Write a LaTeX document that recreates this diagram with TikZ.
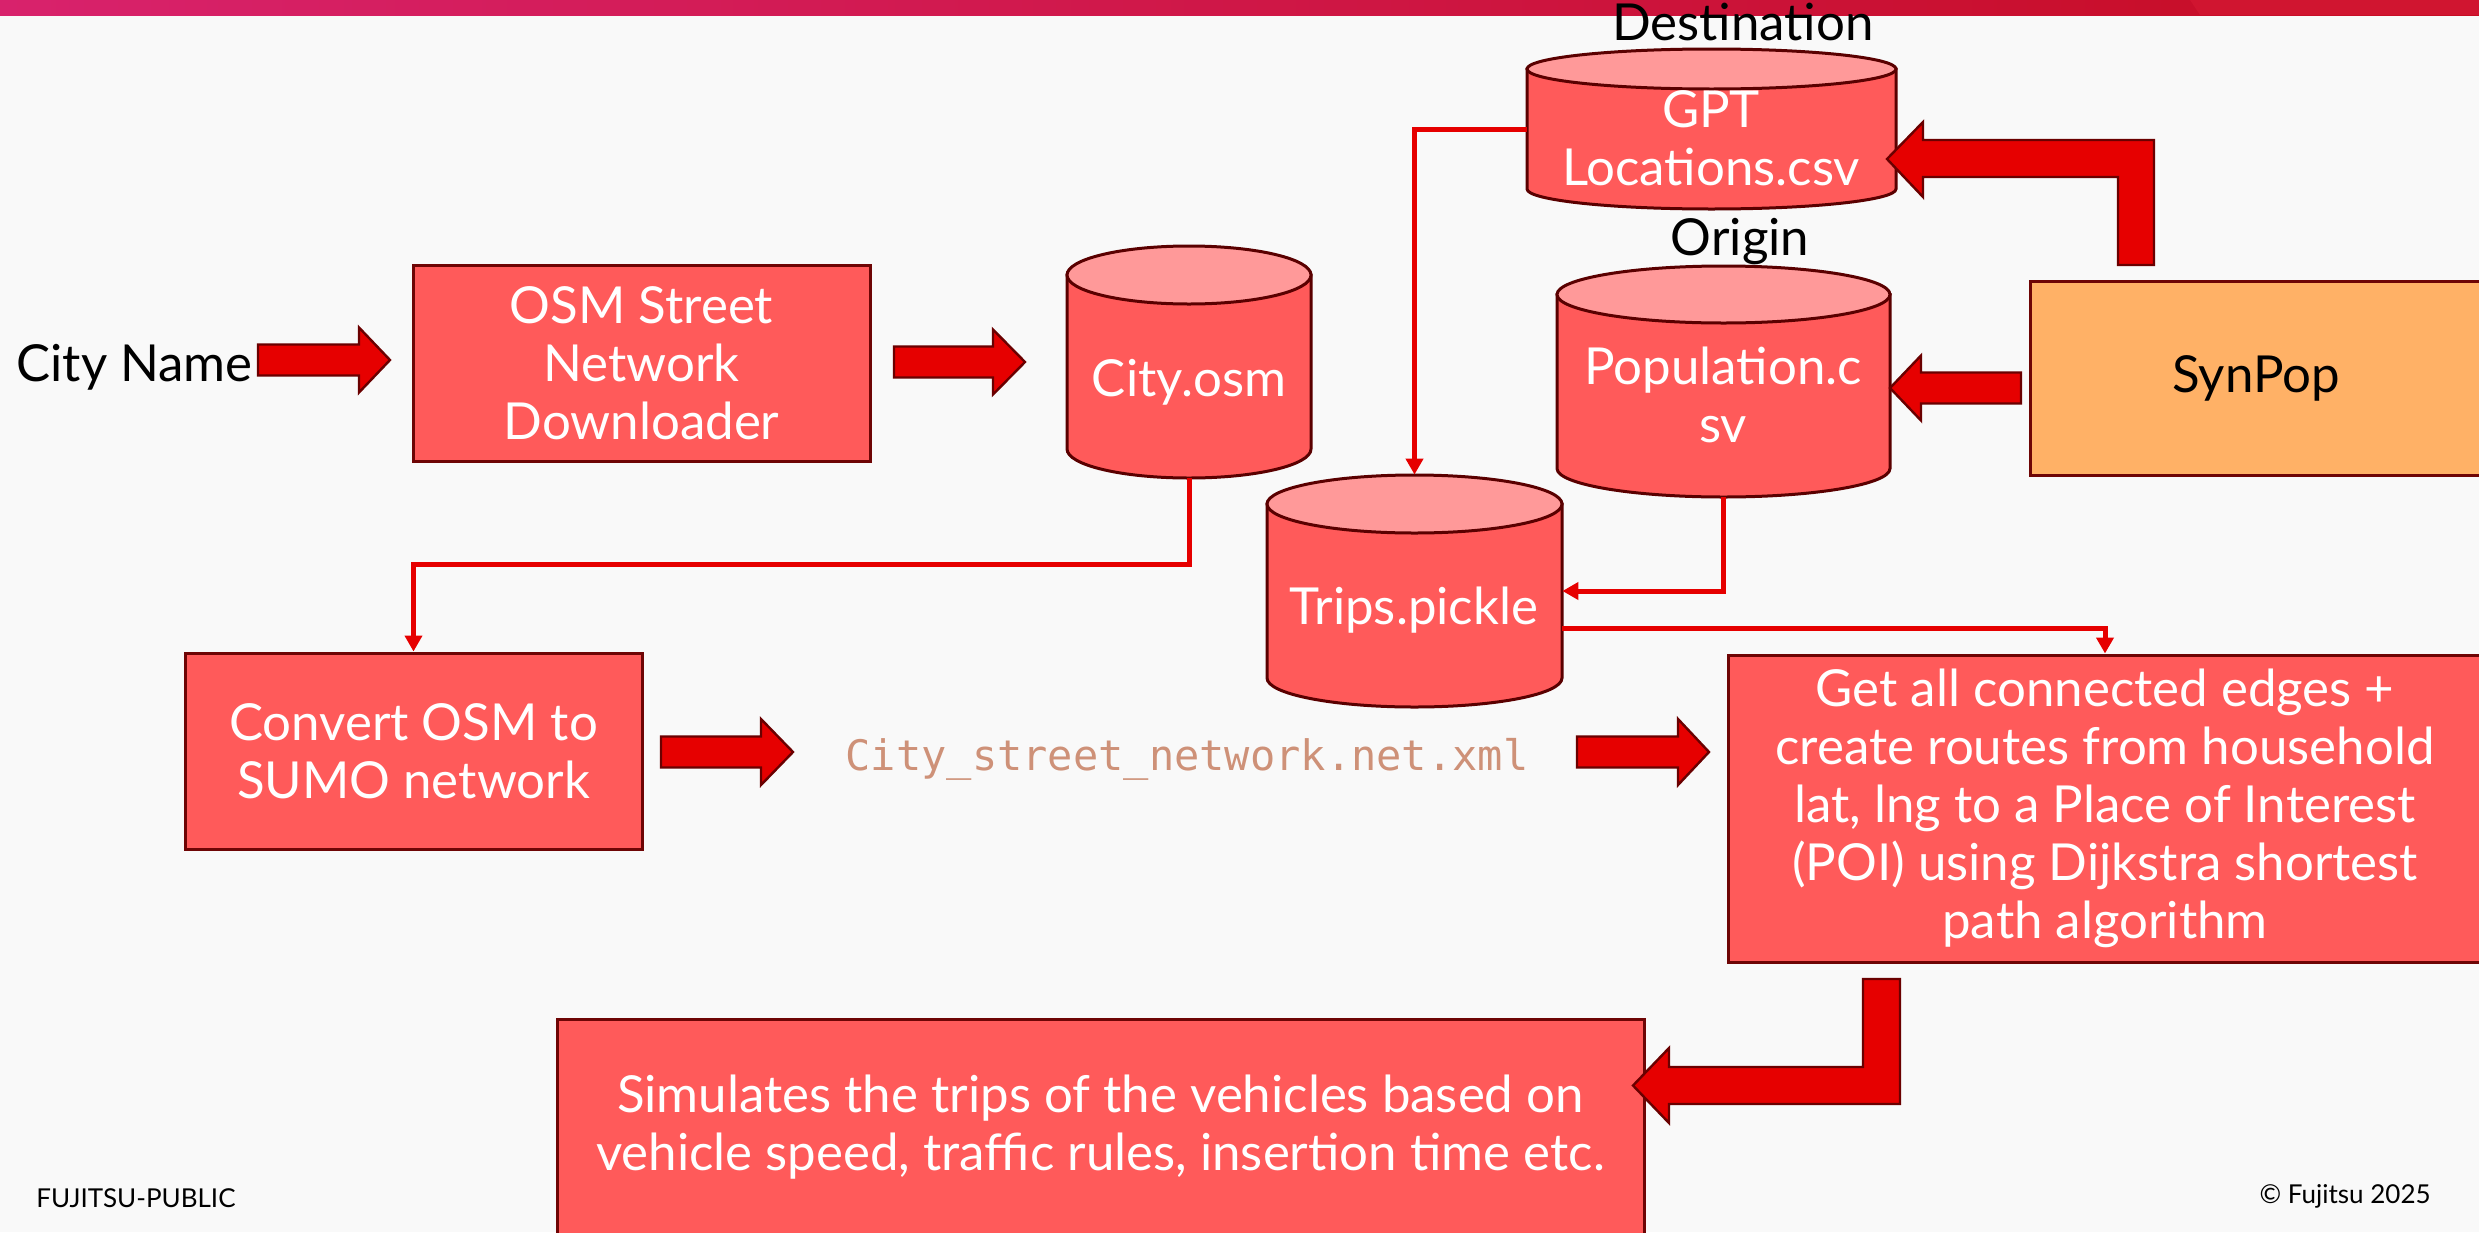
\documentclass[tikz,border=0pt]{standalone}
\usepackage{fontspec}
\setmainfont{Lato}
\newfontfamily\codefont{DejaVu Sans Mono}
\usetikzlibrary{arrows.meta}
\definecolor{bgc}{HTML}{F9F9F9}
\definecolor{boxfill}{HTML}{FF5A5A}
\definecolor{boxborder}{HTML}{6E0505}
\definecolor{cyltopc}{HTML}{FF9999}
\definecolor{cylborder}{HTML}{5A0000}
\definecolor{arrowred}{HTML}{E60000}
\definecolor{arrowborder}{HTML}{6A0000}
\definecolor{connred}{HTML}{E60000}
\definecolor{synpopc}{HTML}{FFB166}
\definecolor{codec}{HTML}{CE9178}
\definecolor{barleft}{HTML}{D8226C}
\definecolor{barright}{HTML}{C60C22}
\definecolor{barlight}{HTML}{D01530}
\newcommand\mainfs{\fontsize{25.5pt}{29pt}\selectfont}
\newcommand\drawcyl[5]{%
  \pgfmathsetmacro\cylcx{(#1+#2)/2}%
  \pgfmathsetmacro\cylrx{(#2-#1)/4}%
  \pgfmathsetmacro\cylry{#5/2}%
  \path[cylbody] ({#1},{#3+#5}) -- ({#1},{#4-#5}) arc[start angle=180,end angle=360,x radius=\cylrx pt,y radius=\cylry pt] -- ({#2},{#3+#5}) -- cycle;
  \path[cyltop] ({\cylcx},{#3+#5}) ellipse[x radius=\cylrx pt,y radius=\cylry pt];
}
\newcommand\blockarrow[6]{%
  \path[barrow] ({#1},{#4-#5}) -- ({#2},{#4-#5}) -- ({#2},{#4-#6}) -- ({#3},{#4}) -- ({#2},{#4+#6}) -- ({#2},{#4+#5}) -- ({#1},{#4+#5}) -- cycle;
}
\begin{document}
\begin{tikzpicture}[x=0.5pt,y=-0.5pt,
  box/.style={rectangle,draw=boxborder,line width=1.5pt,fill=boxfill,text=white,align=center,font=\mainfs,inner sep=0pt},
  cylarea/.style={rectangle,inner sep=0pt,draw=none},
  cyltxt/.style={text=white,align=center,font=\mainfs,inner sep=0pt},
  lbl/.style={text=black,font=\mainfs,inner sep=0pt},
  foot/.style={text=black,font=\fontsize{13pt}{15pt}\selectfont,inner sep=0pt},
  codetxt/.style={text=codec,font=\codefont\fontsize{21pt}{25pt}\selectfont,inner sep=0pt},
  conn/.style={draw=connred,line width=2.5pt,-{Triangle[width=8.5pt,length=8pt]}},
  barrow/.style={fill=arrowred,draw=arrowborder,line width=1.2pt,line join=miter},
  cylbody/.style={fill=boxfill,draw=cylborder,line width=1.5pt},
  cyltop/.style={fill=cyltopc,draw=cylborder,line width=1.5pt}]
\useasboundingbox (0,0) rectangle (2479,1232);
\clip (0,0) rectangle (2479,1232);
\fill[bgc] (0,0) rectangle (2479,1232);
% top bar
\shade[left color=barleft,right color=barright] (0,0) rectangle (2479,15);
\fill[barlight] (2190,0) -- (2479,0) -- (2479,15) -- (2200,15) -- cycle;

% boxes
\node[box,minimum width=228.5pt,minimum height=98pt] (osm) at (641.5,363) {OSM Street\\Network\\Downloader};
\node[box,minimum width=228.5pt,minimum height=98pt] (convert) at (413.5,751) {Convert OSM to\\SUMO network};
\node[box,minimum width=377pt,minimum height=153.5pt] (get) at (2105,808.5) {Get all connected edges +\\create routes from household\\lat, lng to a Place of Interest\\(POI) using Dijkstra shortest\\path algorithm};
\node[box,fill=synpopc,text=black,minimum width=226pt,minimum height=97pt] (synpop) at (2256,378) {SynPop};
\node[box,minimum width=543.5pt,minimum height=108.5pt] (sim) at (1100.5,1127.5) {Simulates the trips of the vehicles based on\\vehicle speed, traffic rules, insertion time etc.};

% cylinders
\drawcyl{1067}{1311}{246}{478}{29}
\drawcyl{1267}{1562}{475}{707}{29}
\drawcyl{1527}{1896}{49}{209}{20}
\drawcyl{1557}{1890}{266}{497}{28.5}
\node[cylarea,minimum width=122pt,minimum height=116pt] (city) at (1189,362) {};
\node[cylarea,minimum width=147.5pt,minimum height=116pt] (trips) at (1414.5,591) {};
\node[cylarea,minimum width=184.5pt,minimum height=80pt] (gpt) at (1711.5,129) {};
\node[cylarea,minimum width=166.5pt,minimum height=115.5pt] (pop) at (1723.5,381.5) {};
\node[cyltxt,anchor=base] (citytxt) at (1189,396) {City.osm};
\node[cyltxt,anchor=base] (tripstxt) at (1414,624) {Trips.pickle};
\node[cyltxt,anchor=base] (gpttxt) at (1711,185) {GPT\\Locations.csv};
\node[cyltxt,anchor=base] (poptxt) at (1723,442) {Population.c\\sv};

% labels
\node[lbl,anchor=base west] (cityname) at (16,381) {City Name};
\node[lbl,anchor=base] (dest) at (1743,40) {Destination};
\node[lbl,anchor=base] (origin) at (1740,255) {Origin};
\node[codetxt,anchor=base] (netxml) at (1187,770) {City\_street\_network.net.xml};
\node[foot,anchor=west] (pub) at (36,1198) {FUJITSU-PUBLIC};
\node[foot,anchor=east] (copy) at (2431,1196) {© Fujitsu 2025};

% thin connectors
\draw[conn] (city.south) -- ++(0,86) -| (convert.north);
\draw[conn] (gpt.west) -| (trips.north);
\draw[conn] (pop.south) |- (trips.east);
\draw[conn] ([yshift=-18.5pt]trips.east) -| (get.north);

% block arrows
\blockarrow{258}{359}{390}{360}{15.5}{32.5}
\blockarrow{894}{993}{1025}{362}{15.5}{32.5}
\blockarrow{661}{761}{793}{752}{15.5}{33}
\blockarrow{1577}{1678}{1709}{752}{15.5}{33}
\blockarrow{2021}{1921}{1890}{388}{15.5}{32.5}
\path[barrow] (2154,265) -- (2154,140) -- (1923,140) -- (1923,122) -- (1887,159) -- (1923,197) -- (1923,177) -- (2118,177) -- (2118,265) -- cycle;
\path[barrow] (1863,979) -- (1900,979) -- (1900,1104) -- (1669,1104) -- (1669,1123) -- (1633,1085.5) -- (1669,1048) -- (1669,1067) -- (1863,1067) -- cycle;
\end{tikzpicture}
\end{document}
